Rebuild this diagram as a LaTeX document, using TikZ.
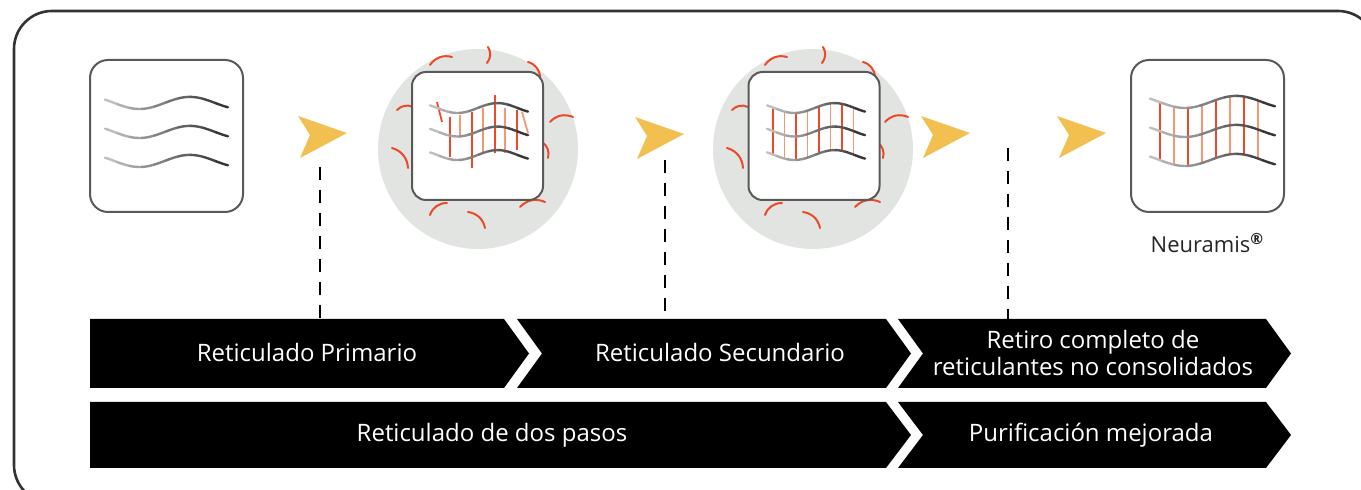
\documentclass[tikz,border=0pt]{standalone}
\usepackage{fontspec}
\setmainfont{Open Sans}
\usetikzlibrary{positioning}
\definecolor{arrowyellow}{RGB}{242,192,80}
\definecolor{linkred}{RGB}{238,72,40}
\definecolor{linklight}{RGB}{246,150,115}
\definecolor{ringgray}{RGB}{226,228,226}
\tikzstyle{frame} = [draw=black!80,line width=1.3pt,rounded corners=19pt]
\tikzstyle{icon} = [draw=black!65,line width=1pt,rounded corners=9pt,fill=white,inner sep=0,minimum width=76.5pt,minimum height=76pt]
\tikzstyle{innerbox} = [icon,rounded corners=7pt,minimum width=65.5pt,minimum height=64pt]
\tikzstyle{ring} = [circle,fill=ringgray,inner sep=0,minimum size=100pt]
\tikzstyle{wave} = [line width=1.2pt,line cap=round]
\tikzstyle{link} = [linkred,line width=0.9pt]
\tikzstyle{linklt} = [linklight,line width=0.9pt]
\tikzstyle{agent} = [linkred,line width=1pt,line cap=round]
\tikzstyle{bar} = [fill=black]
\tikzstyle{bartext} = [text=white,font=\fontsize{12}{13.5}\selectfont,align=center,inner sep=0]
\tikzstyle{brand} = [text=black!85,font=\fontsize{11}{13}\selectfont,inner sep=0]
\tikzstyle{pointer} = [fill=arrowyellow]
\tikzstyle{dashline} = [line width=1.4pt,dash pattern=on 6.5pt off 5pt]
\tikzset{declare function={wv(\t)=0.45+0.55*cos(439*(\t-0.28));}}
% one fibre: x0, y0, width, amplitude
\newcommand{\wavy}[4]{%
  \foreach \k in {0,...,9}{%
    \pgfmathtruncatemacro\shade{25+6*\k}
    \pgfmathsetmacro\ta{\k/10}
    \pgfmathsetmacro\tb{(\k+1)/10}
    \draw[wave,black!\shade] plot[domain=\ta:\tb,samples=8] ({#1+#3*\x},{#2+#4*wv(\x)});
  }}
% crosslinker bits round a ring centre
\newcommand{\agents}[2]{%
  \foreach \ax/\ay/\bx/\by in {-48/-84/-26/-92, 10/-102/9/-86, 50/-87/62/-72,
      -81/-39/-65/-42, 72/-27/95/-32, -86/-1/-70/19, 64/-7/70/9,
      -48/66/-31/54, -10/63/7/79, 42/58/67/53}
    \draw[agent] (#1+\ax,#2+\ay) to[bend left=35] (#1+\bx,#2+\by);
}
\newcommand{\yarrow}[2]{\fill[pointer] (#1,#2) -- (#1-49,#2-17) -- (#1-37,#2+2) -- (#1-47,#2+25) -- cycle;}

\begin{document}
\begin{tikzpicture}[x=0.5pt,y=-0.5pt]
  \useasboundingbox (0,0) rectangle (1361,490);
  \clip (0,0) rectangle (1361,490);
  \fill[white] (0,0) rectangle (1361,490);
  \draw[frame] (14,11) rectangle (1376,503);

  % raw fibres
  \node[icon] (raw) at (166.5,136) {};
  \foreach \wy in {98,127,156} {\wavy{105}{\wy}{123}{11}}
  \yarrow{347}{133}

  % primary
  \node[ring] (ring1) at (478,149) {};
  \agents{478}{149}
  \node[innerbox] (prim) at (477.5,136) {};
  \foreach \lx/\ya/\yb [count=\i] in {450/117/157, 460/115/137, 472/112/168, 483/108/153,
      495/95/153, 505/108/153, 517/110/150}
    {\ifodd\i \def\lk{link}\else \def\lk{linklt}\fi
     \draw[\lk] (\lx,\ya) -- (\lx,\yb);}
  \draw[link] (437,102) -- (442,122);
  \draw[linklt] (522,112) -- (528,133);
  \foreach \wy in {104,127.5,151} {\wavy{430}{\wy}{98}{9}}
  \yarrow{684}{134}

  % secondary
  \node[ring] (ring2) at (813,149) {};
  \agents{813}{149}
  \node[innerbox] (sec) at (814,136) {};
  \foreach \i in {0,...,7}{
    \pgfmathsetmacro\lx{773+11.5*\i}
    \pgfmathsetmacro\ly{104+9*wv((\lx-767)/98)}
    \ifodd\i \def\lk{linklt}\else \def\lk{link}\fi
    \draw[\lk] (\lx,\ly) -- ++(0,47);
  }
  \foreach \wy in {104,127.5,151} {\wavy{767}{\wy}{98}{9}}
  \yarrow{970}{133}
  \yarrow{1106}{133}

  % result
  \node[icon] (neur) at (1207.5,136) {};
  \foreach \i in {0,...,7}{
    \pgfmathsetmacro\lx{1160+14*\i}
    \pgfmathsetmacro\ly{97+11*wv((\lx-1150)/125)}
    \ifodd\i \def\lk{linklt}\else \def\lk{link}\fi
    \draw[\lk] (\lx,\ly) -- ++(0,58);
  }
  \foreach \wy in {97,126,155} {\wavy{1150}{\wy}{125}{11}}
  \node[brand,below=10pt of neur] (brandname) {Neuramis\textsuperscript{\textbf{®}}};

  % process bars
  \fill[bar] (90,319) -- (504,319) -- (529,353.5) -- (504,388) -- (90,388) -- cycle;
  \fill[bar] (517,319) -- (886,319) -- (911,353.5) -- (886,388) -- (517,388) -- (542,353.5) -- cycle;
  \fill[bar] (898,319) -- (1266,319) -- (1291,353.5) -- (1266,388) -- (898,388) -- (923,353.5) -- cycle;
  \fill[bar] (90,402) -- (886,402) -- (911,435) -- (886,468) -- (90,468) -- cycle;
  \fill[bar] (898,402) -- (1266,402) -- (1291,435) -- (1266,468) -- (898,468) -- (923,435) -- cycle;
  \coordinate (rowtop) at (0,319);

  \node[bartext] (t1) at (307,353) {Reticulado Primario};
  \node[bartext] (t2) at (720,353) {Reticulado Secundario};
  \node[bartext] (t3) at (1093,353) {Retiro completo de\\reticulantes no consolidados};
  \node[bartext] (t4) at (492,435) {Reticulado de dos pasos};
  \node[bartext] (t5) at (1091,435) {Purificación mejorada};

  % stage markers
  \coordinate (d1) at (320,167);
  \coordinate (d2) at (665,160);
  \coordinate (d3) at (1008,148);
  \draw[dashline] (d1) -- (d1 |- rowtop);
  \draw[dashline] (d2) -- (d2 |- rowtop);
  \draw[dashline] (d3) -- (d3 |- rowtop);
\end{tikzpicture}
\end{document}
